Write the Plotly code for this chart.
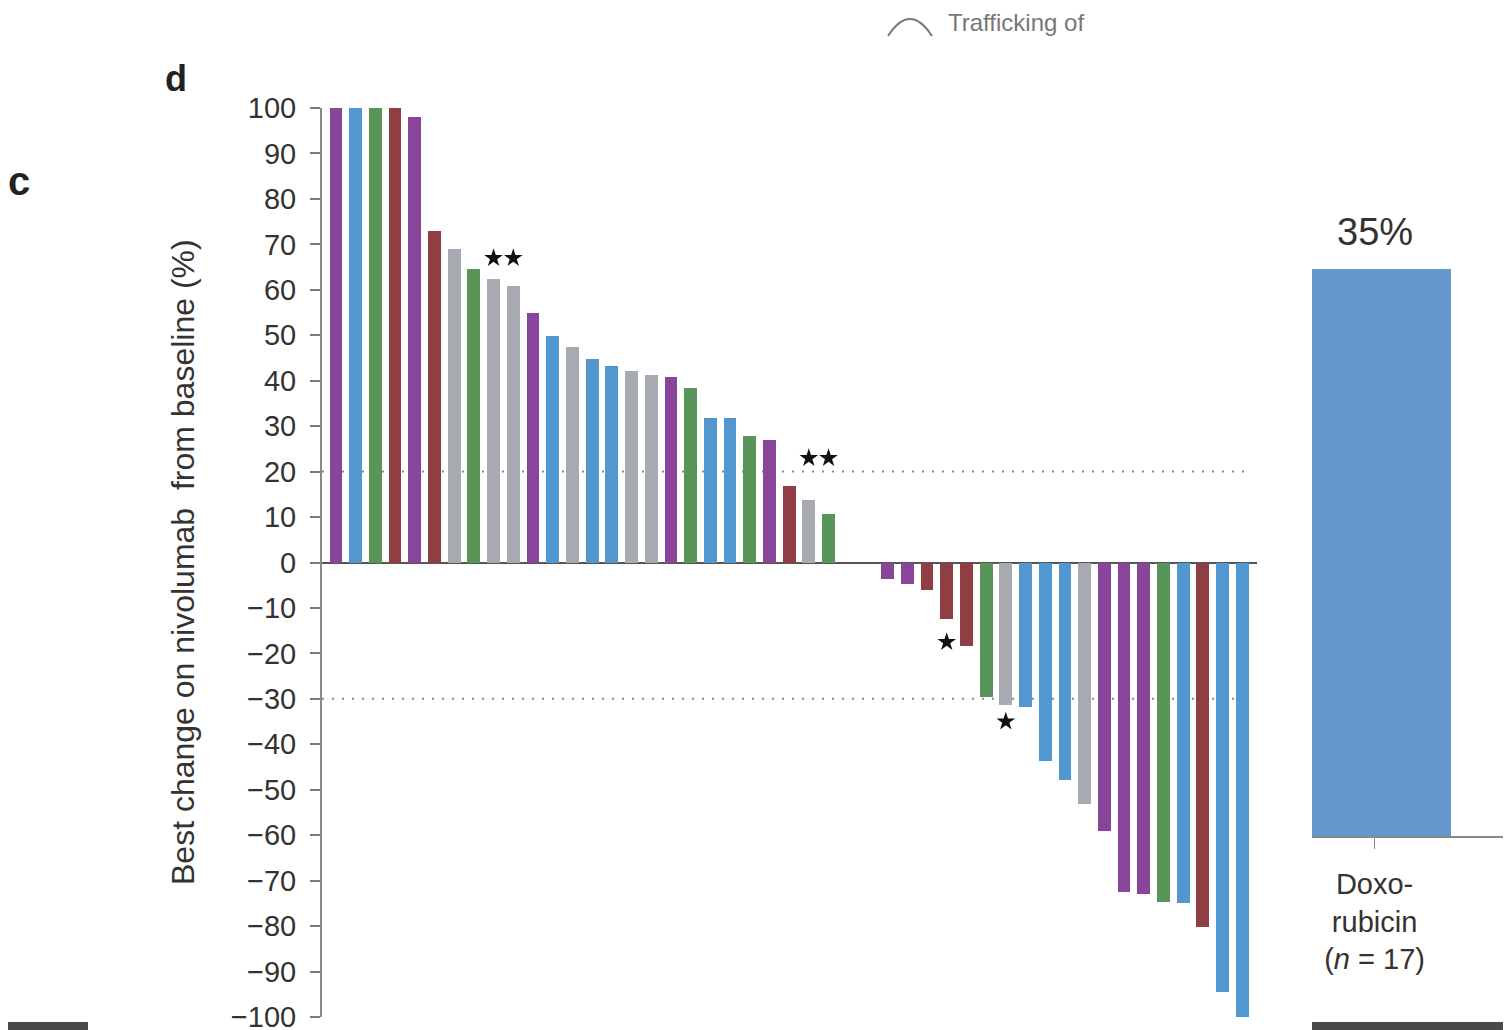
import plotly.graph_objects as go

# ---------------- data ----------------
patients = list(range(1, 48))
best_change = [100, 100, 100, 100, 98, 73, 69, 64.5, 62.3, 60.8, 54.8, 49.8, 47.4, 44.7, 43.2,
               42.1, 41.3, 40.8, 38.4, 31.9, 31.8, 27.8, 27.0, 16.9, 13.7, 10.6,
               0, 0,
               -3.7, -4.7, -6.0, -12.5, -18.4, -29.5, -31.3, -31.7, -43.6, -47.9, -53.1, -59.0,
               -72.4, -73.0, -74.8, -74.9, -80.3, -94.6, -100]
group = ["P", "B", "G", "R", "P", "R", "Y", "G", "Y", "Y", "P", "B", "Y", "B", "B",
         "Y", "Y", "P", "G", "B", "B", "G", "P", "R", "Y", "G",
         "-", "-",
         "P", "P", "R", "R", "R", "G", "Y", "B", "B", "B", "Y", "P",
         "P", "P", "G", "B", "R", "B", "B"]
group_colors = {"P": "#88459A", "B": "#5297D0", "G": "#579658", "R": "#8F3E43", "Y": "#A8AAB1", "-": "#FFFFFF"}

star_patients = [4, 9, 10, 25, 26, 32, 35]
star_y = [104.5, 67, 67, 23, 23, -17.5, -35]

thresholds = [20, -30]

tick_vals = list(range(-100, 101, 10))
tick_text = [("−" + str(-v)) if v < 0 else str(v) for v in tick_vals]

orr_category = ["Doxo-<br>rubicin<br>(<i>n</i> = 17)"]
orr_value = [35]

# ---------------- figure ----------------
OFF = 8  # page body margin
W, H = 1511 - OFF, 1030 - OFF
def px(x):
    return (x - OFF) / W
def py(y):
    return 1 - (y - OFF) / H

fig = go.Figure()

fig.add_trace(go.Bar(
    x=[p - 1 for p in patients], y=best_change,
    marker=dict(color=[group_colors[g] for g in group], line=dict(width=0)),
    width=0.65, showlegend=False, xaxis="x", yaxis="y",
))
fig.add_trace(go.Scatter(
    x=[p - 1 for p in star_patients], y=star_y, mode="markers",
    marker=dict(symbol="star", size=14, color="#111111", line=dict(width=0)),
    cliponaxis=False, showlegend=False, xaxis="x", yaxis="y",
))
fig.add_trace(go.Bar(
    x=[0], y=orr_value, marker=dict(color="#6497CB", line=dict(width=0)),
    width=0.8, offset=-0.36, showlegend=False, xaxis="x2", yaxis="y2",
))

for t in thresholds:
    fig.add_shape(type="line", xref="x domain", yref="y", x0=0, x1=0.99, y0=t, y1=t,
                  line=dict(color="#8a8a8a", width=2, dash="2px,8px"), layer="below")

fig.update_layout(
    width=W, height=H, autosize=False,
    margin=dict(l=0, r=0, t=0, b=0, autoexpand=False),
    paper_bgcolor="white", plot_bgcolor="white",
    font=dict(family="Liberation Sans, Arial, sans-serif", color="#333333"),
    xaxis=dict(domain=[px(322), px(1257)], range=[-0.71, 46.75], showticklabels=False,
               showgrid=False, zeroline=False, showline=False, ticks="", automargin=False),
    yaxis=dict(domain=[py(1017), py(108)], range=[-100, 100], tickvals=tick_vals, ticktext=tick_text,
               ticks="outside", ticklen=10, tickwidth=2, tickcolor="#7a7a7a",
               showline=True, linecolor="#8a8a8a", linewidth=2, automargin=False,
               showgrid=False, zeroline=True, zerolinecolor="#555555", zerolinewidth=2,
               tickfont=dict(size=29, color="#333333"), ticklabelstandoff=8,
               ticklabeloverflow="allow"),
    xaxis2=dict(domain=[px(1312), 1.0], range=[-0.36, 0.785], anchor="y2", automargin=False,
                tickvals=[0], ticktext=orr_category, ticks="outside", ticklen=11,
                tickcolor="#8a8a8a", tickwidth=1, showline=True, linecolor="#8a8a8a", linewidth=2,
                showgrid=False, zeroline=False, tickfont=dict(size=29, color="#333333"),
                ticklabelstandoff=10, ticklabeloverflow="allow"),
    yaxis2=dict(domain=[py(836), py(269)], range=[0, 35], anchor="x2", visible=False, automargin=False),
    bargap=0,
)

annotations = [
    dict(text="Best change on nivolumab  from baseline (%)", x=px(183), y=py(562),
         xref="paper", yref="paper", textangle=-90, showarrow=False,
         font=dict(size=32, color="#333333"), xanchor="center", yanchor="middle"),
    dict(text="<b>d</b>", x=px(176), y=py(78), xref="paper", yref="paper", showarrow=False,
         font=dict(size=36, color="#222222"), xanchor="center", yanchor="middle"),
    dict(text="<b>c</b>", x=px(19), y=py(181), xref="paper", yref="paper", showarrow=False,
         font=dict(size=40, color="#222222"), xanchor="center", yanchor="middle"),
    dict(text=f"{orr_value[0]}%", x=0, y=orr_value[0], xref="x2", yref="y2", showarrow=False,
         yshift=37, font=dict(size=38, color="#333333"), xanchor="center", yanchor="middle"),
    dict(text="Trafficking of", x=px(947), y=1.0, xref="paper", yref="paper", showarrow=False,
         font=dict(size=24, color="#777777"), xanchor="left", yanchor="top", borderpad=0),
]
fig.update_layout(annotations=annotations)

# screenshot strips at bottom edge
for x0, x1 in [(0, 88), (1312, 1511)]:
    fig.add_shape(type="rect", xref="paper", yref="paper", x0=px(x0), x1=px(x1), y0=0, y1=py(1022),
                  fillcolor="#4a4a4a", line=dict(width=0), layer="above")
# partial circled number at top
fig.add_shape(type="path", xref="paper", yref="paper",
              path=f"M {px(888)} {py(36)} Q {px(910)} {py(2)} {px(932)} {py(36)}",
              line=dict(color="#777777", width=2))

fig.write_html("out.html")
